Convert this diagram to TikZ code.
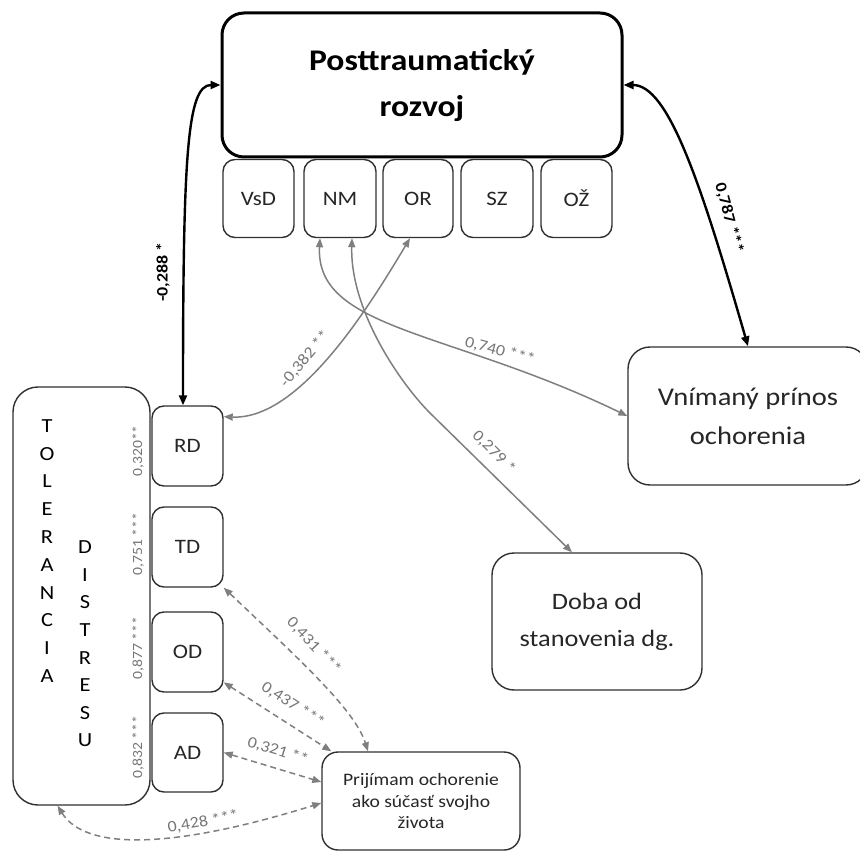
\documentclass[tikz,border=0pt]{standalone}
\usepackage{fontspec}
\setmainfont{Carlito}[FakeStretch=1.12]
\usetikzlibrary{arrows.meta}
\definecolor{linegray}{HTML}{7F7F7F}
\definecolor{labelgray}{HTML}{767676}
\definecolor{textdark}{HTML}{262626}
\definecolor{boxline}{HTML}{303030}

\begin{document}
\begin{tikzpicture}[x=1pt,y=-1pt,
  box/.style={draw=boxline, line width=1.4pt, rounded corners=12pt, inner sep=0pt,
    align=center, text=textdark},
  subbox/.style={box, minimum width=71pt, minimum height=78pt, font=\fontsize{20.5}{24}\selectfont},
  sidebox/.style={box, minimum width=71pt, minimum height=80pt, font=\fontsize{20.5}{24}\selectfont},
  thickarr/.style={line width=2.4pt, {Triangle[length=10pt,width=8pt]}-{Triangle[length=10pt,width=8pt]}},
  grayarr/.style={draw=linegray, line width=1.5pt,
    {Triangle[length=9pt,width=7pt]}-{Triangle[length=9pt,width=7pt]}},
  dasharr/.style={grayarr, dash pattern=on 6pt off 4pt},
  glabel/.style={text=labelgray, inner sep=1pt, font=\fontsize{16}{18}\selectfont},
  slabel/.style={text=labelgray, inner sep=1pt, rotate=90, font=\fontsize{14}{16}\selectfont},
  blabel/.style={text=black, inner sep=1pt, font=\bfseries\fontsize{16}{18}\selectfont},
]
\useasboundingbox (0,0) rectangle (860,853);

% main construct and its five subscales
\node[box, draw=black, line width=3pt, rounded corners=22pt, minimum width=400pt,
      minimum height=144pt, text=black, font=\bfseries\fontsize{30}{46}\selectfont]
      (title) at (422,85) {Posttraumatický\\rozvoj};
\node[subbox] (vsd) at (258.5,198.5) {VsD};
\node[subbox, minimum width=72pt] (nm) at (340,198.5) {NM};
\node[subbox, minimum width=70pt] (or) at (418,198.5) {OR};
\node[subbox, minimum width=72pt] (sz) at (497,198.5) {SZ};
\node[subbox] (oz) at (576.5,198.5) {OŽ};

% distress tolerance block
\node[box, rounded corners=25pt, minimum width=137pt, minimum height=418pt] (tol) at (81.5,596) {};
\node[text=black, align=center, font=\fontsize{20}{27.8}\selectfont] (tolA) at (47,551)
  {T\\O\\L\\E\\R\\A\\N\\C\\I\\A};
\node[text=black, align=center, font=\fontsize{20}{27.6}\selectfont] (tolB) at (85,644)
  {D\\I\\S\\T\\R\\E\\S\\U};
\node[sidebox] (rd) at (187.5,446) {RD};
\node[sidebox] (td) at (187.5,547) {TD};
\node[sidebox] (od) at (187.5,652) {OD};
\node[sidebox, minimum height=79pt] (ad) at (187.5,752.5) {AD};
\node[slabel] (lrd) at (138,451) {0,320**};
\node[slabel] (ltd) at (138,544) {0,751 ***};
\node[slabel] (lod) at (138,648) {0,877 ***};
\node[slabel] (lad) at (138,747) {0,832 ***};

% outcome boxes
\node[box, rounded corners=22pt, minimum width=240pt, minimum height=138pt,
      font=\fontsize{25.5}{39}\selectfont] (vn) at (748,416) {Vnímaný prínos\\ochorenia};
\node[box, rounded corners=22pt, minimum width=210pt, minimum height=137pt,
      font=\fontsize{23.5}{37}\selectfont] (doba) at (597,621.5) {Doba od\\stanovenia dg.};
\node[box, rounded corners=16pt, minimum width=198pt, minimum height=98pt,
      font=\fontsize{17.5}{21.5}\selectfont] (pr) at (421,801)
      {Prijímam ochorenie\\ako súčasť svojho\\života};

% bold correlations with the main construct
\draw[thickarr] (title.west) .. controls (187,85) and (183,156) .. ([xshift=-4.5pt]rd.north);
\draw[thickarr] (title.east) .. controls (668,85) and (700,180) .. (vn.north);
\node[blabel, rotate=90] (l288) at (163,272) {-0,288 *};
\node[blabel, rotate=-75] (l787) at (729,218) {0,787 ***};

% subscale correlations
\draw[grayarr] ([xshift=-8pt]or.south) .. controls (370,305) and (300,420) .. (rd.39);
\draw[grayarr] ([xshift=-20pt]nm.south) .. controls (315,330) and (450,330) .. (vn.west);
\draw[grayarr] ([xshift=12pt]nm.south) .. controls (350,310) and (400,383) .. (430,413)
  -- ([xshift=-25pt]doba.north);
\node[glabel, rotate=50] (l382) at (305,359) {-0,382 **};
\node[glabel, rotate=-15] (l740) at (500,351) {0,740 ***};
\node[glabel, rotate=-45] (l279) at (494,452) {0,279 *};

% acceptance of the illness
\draw[dasharr] (td.south east) .. controls (300,660) and (355,710) .. ([xshift=-53pt]pr.north);
\draw[dasharr] (od.-40) -- ([xshift=10pt]pr.north west);
\draw[dasharr] (ad.east) -- ([yshift=19pt]pr.west);
\draw[dasharr] ([xshift=-24pt]tol.south) .. controls (85,850) and (170,850) .. ([yshift=-2pt]pr.west);
\node[glabel, rotate=-47] (l431) at (314,646) {0,431 ***};
\node[glabel, rotate=-33] (l437) at (293,705) {0,437 ***};
\node[glabel, rotate=-17] (l321) at (278,751) {0,321 **};
\node[glabel, rotate=10] (l428) at (203,822) {0,428 ***};
\end{tikzpicture}
\end{document}
